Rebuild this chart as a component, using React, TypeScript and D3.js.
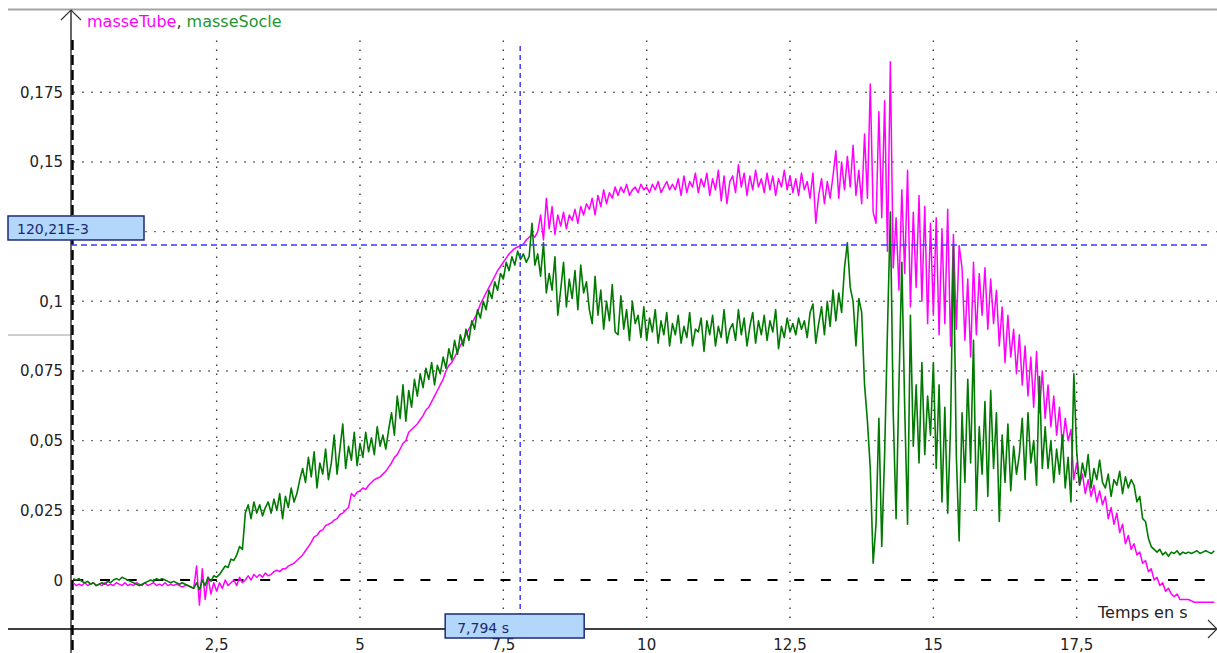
import React, { useMemo } from "react";
import * as d3 from "d3";

// Acquisition step of both channels, in seconds
const SAMPLE_STEP = 0.05;

// masseTube and masseSocle, one sample every SAMPLE_STEP, values in 10^-3 units
const masseTube = [
  -1, -2, -1.5, -2, -1, -2, -1.5, -1, -2, -1.5,
  -2, -1, -2, -1.5, -2, -1, -1.5, -2, -1, -2,
  -1.5, -2, -1, -1.5, -2, -1, -2, -1.5, -1, -2,
  -1.5, -2, -1, -2, -1.5, -2, -1.5, -2, -2.5, -2,
  -2, -2.5, -3, 5, -9, 4, -7, 1, -5, -1,
  -4, -1, -3, 0, -2, -1, 0, -2, 1, -1,
  0, 1.5, 0, 2, 1, 2, 1, 2.5, 1.5, 2,
  3, 3.5, 3, 4, 4, 5, 5.5, 6, 7, 8,
  9, 10.5, 12, 13.5, 15.5, 16, 17.5, 18, 19.5, 20,
  20.5, 21.5, 22, 23.5, 24, 25, 26, 31, 30, 31.5,
  32, 33, 32.5, 34, 35, 36, 36.5, 37, 38, 39,
  40.5, 42, 44, 45, 47, 49, 50, 53, 54, 55,
  56, 57.5, 59, 61, 62, 64, 66, 68, 70, 72,
  75, 77, 78, 80, 82, 84, 86, 88, 90, 92,
  94, 96, 99, 101, 103, 105, 107, 109, 111, 112.5,
  114, 115.5, 117, 118, 119, 119.5, 120, 120.5, 122, 123,
  124, 123, 125, 131, 122, 137, 126, 134, 124, 131,
  127, 132, 126, 131, 129, 133, 128, 134, 131, 135,
  133, 137, 131, 138, 134, 140, 135, 139, 137, 141,
  138, 141, 139, 142, 138, 140, 141, 139, 142, 140,
  141, 139, 142, 140, 143, 139, 141, 143, 140, 142,
  140, 144, 138, 145, 139, 143, 141, 146, 139, 144,
  141, 146, 138, 144, 140, 147, 136, 145, 135, 143,
  145, 139, 149, 141, 146, 138, 145, 140, 147, 141,
  144, 139, 146, 140, 145, 138, 144, 141, 147, 140,
  145, 139, 144, 138, 146, 140, 143, 137, 146, 128,
  138, 144, 135, 143, 137, 145, 154, 137, 150, 140,
  152, 141, 156, 138, 147, 135, 160, 137, 178, 132,
  128, 168, 130, 172, 118, 186, 112, 130, 104, 140,
  110, 147, 98, 132, 105, 138, 100, 134, 92, 128,
  95, 130, 88, 126, 92, 133, 84, 124, 90, 120,
  112, 86, 108, 80, 114, 88, 110, 95, 112, 90,
  108, 92, 104, 84, 98, 78, 95, 80, 90, 74,
  88, 70, 84, 66, 80, 62, 82, 60, 75, 58,
  70, 55, 66, 52, 62, 48, 58, 50, 54, 36,
  42, 34, 38, 31, 36, 30, 34, 28, 32, 27,
  30, 22, 26, 20, 24, 17, 20, 13, 16, 11,
  13, 9, 10, 6, 7, 3, 4, 0, 1, -2,
  -1, -4, -3, -5, -6, -5, -7, -7, -7, -7,
  -7.5, -8, -8, -8, -8, -8, -8, -8, -8,
];

const masseSocle = [
  0.5, 0, 0.5, -0.5, -1, -0.5, -1.5, -1, -2, -1.5,
  -1, -1.5, -0.5, -1, 0, 0.5, 0, 1, 0.5, 0,
  -0.5, -1, -1.5, -2, -1.5, -1, -0.5, 0, -0.5, 0.5,
  0, 0.5, 0, -0.5, -1, -0.5, -1, -1.5, -1, -1.5,
  -2, -2.5, -3, -1, -3.5, 0, -2, 1, -0.5, 1.5,
  1, 2, 3.5, 5, 4.5, 7.5, 7, 9, 12, 11,
  24, 27, 22, 28, 24, 27, 23, 26, 28, 24,
  29, 25, 31, 22, 30, 26, 33, 28, 31, 36,
  40, 35, 44, 37, 46, 33, 42, 38, 47, 36,
  42, 52, 38, 47, 56, 40, 48, 43, 53, 41,
  49, 44, 53, 46, 51, 45, 55, 48, 52, 47,
  54, 60, 52, 66, 58, 70, 57, 68, 62, 72,
  66, 74, 69, 76, 72, 78, 70, 77, 74, 80,
  76, 83, 79, 86, 81, 88, 84, 90, 86, 93,
  90, 97, 94, 100, 97, 104, 101, 107, 104, 110,
  108, 114, 111, 116, 113, 118, 115, 117, 114, 116,
  128, 113, 117, 109, 121, 103, 110, 104, 116, 95,
  104, 114, 98, 108, 101, 111, 97, 113, 103, 107,
  97, 92, 109, 95, 104, 90, 100, 93, 106, 89,
  88, 102, 90, 97, 86, 100, 92, 95, 87, 98,
  86, 94, 89, 97, 85, 93, 88, 96, 84, 92,
  88, 95, 85, 91, 87, 96, 84, 90, 89, 94,
  82, 93, 88, 95, 84, 91, 87, 97, 85, 90,
  92, 86, 97, 88, 94, 84, 91, 96, 85, 93,
  88, 95, 86, 93, 89, 97, 83, 91, 87, 94,
  89, 92, 88, 94, 90, 93, 87, 96, 99, 85,
  92, 98, 88, 100, 91, 104, 93, 103, 96, 112,
  121, 105, 100, 84, 101, 96, 70, 57, 40, 6,
  20, 58, 12, 45, 90, 132, 60, 22, 70, 114,
  62, 20, 95, 48, 70, 42, 78, 45, 66, 52,
  78, 40, 70, 28, 62, 24, 55, 120, 45, 14,
  60, 35, 72, 42, 86, 25, 55, 38, 64, 30,
  68, 40, 60, 21, 52, 35, 56, 32, 48, 38,
  45, 58, 36, 60, 42, 50, 34, 73, 40, 55,
  40, 50, 35, 47, 38, 52, 33, 44, 28, 74,
  46, 34, 42, 37, 45, 33, 40, 36, 43, 35,
  33, 38, 30, 36, 34, 39, 31, 37, 33, 36,
  34, 28, 30, 22, 21, 15, 12, 11, 10, 11,
  9, 10, 8.5, 10, 9.5, 10.5, 9, 10, 9.5, 10,
  9.5, 10, 10.5, 9.5, 10, 10.5, 10, 9.5, 10.5,
];

const xTicks = [2.5, 5, 7.5, 10, 12.5, 15, 17.5];
const yTicks = [0, 0.025, 0.05, 0.075, 0.1, 0.125, 0.15, 0.175];

// Reading cursor
const cursorTime = 7.794;
const cursorValue = 0.12021;

const W = 1217;
const H = 653;
const FONT = "'DejaVu Sans', Verdana, sans-serif";

const frLocale = d3.formatLocale({
  decimal: ",",
  thousands: " ",
  grouping: [3],
  currency: ["", " €"],
});
const fmtY = frLocale.format(".3~f");
const fmtX = frLocale.format(".1~f");

export default function App() {
  const x = useMemo(() => d3.scaleLinear().domain([0, 17.5]).range([73.3, 1076.7]), []);
  const y = useMemo(() => d3.scaleLinear().domain([0, 0.175]).range([580, 92.3]), []);

  const line = d3
    .line<number>()
    .x((_, i) => x(i * SAMPLE_STEP))
    .y((v) => y(v / 1000));

  const tubePath = line(masseTube) || "";
  const soclePath = line(masseSocle) || "";

  const x0 = x(0);
  const y0 = y(0);
  const cx = x(cursorTime);
  const cy = y(cursorValue);

  // value box of the cursor, drawn above the horizontal cursor line
  const boxTop = cy - 29;
  const boxBottom = cy - 5;

  const yLabel = `${frLocale.format(".2f")(cursorValue * 1000)}E-3`;
  const xLabel = `${frLocale.format(".3f")(cursorTime)} s`;

  const dotted = { stroke: "#3a3a3a", strokeWidth: 1.4, strokeDasharray: "1.4 7.6" };

  return (
    <div
      style={{
        position: "fixed",
        left: 0,
        top: 0,
        width: W,
        height: H,
        overflow: "hidden",
        background: "#fff",
      }}
    >
      <svg width={W} height={H} style={{ display: "block" }} fontFamily={FONT}>
        <defs>
          <clipPath id="plotArea">
            <rect x={71} y={10} width={W - 71} height={619} />
          </clipPath>
        </defs>

        {/* window header rule */}
        <line x1={8} x2={W} y1={9.5} y2={9.5} stroke="#a3a3a3" strokeWidth={2} />
        <line x1={8} x2={71} y1={335} y2={335} stroke="#cfcfcf" strokeWidth={2} />

        {/* dotted grid */}
        {yTicks
          .filter((t) => t !== 0)
          .map((t) => (
            <line key={`gy${t}`} x1={x0} x2={W} y1={y(t)} y2={y(t)} {...dotted} />
          ))}
        {xTicks.map((t) => (
          <line key={`gx${t}`} x1={x(t)} x2={x(t)} y1={40.5} y2={622} {...dotted} />
        ))}

        {/* zero lines */}
        <line
          x1={x0}
          x2={W}
          y1={y0}
          y2={y0}
          stroke="#000"
          strokeWidth={2}
          strokeDasharray="10 16.7"
        />
        <line
          x1={x0 - 0.8}
          x2={x0 - 0.8}
          y1={40}
          y2={H}
          stroke="#000"
          strokeWidth={2.4}
          strokeDasharray="10 5"
        />

        {/* axes */}
        <line x1={71} x2={71} y1={10} y2={H} stroke="#000" strokeWidth={1.2} />
        <polyline points="61,20 71,10 81,20" fill="none" stroke="#333" strokeWidth={1.2} />
        <line x1={8} x2={W} y1={629} y2={629} stroke="#000" strokeWidth={1.6} />
        <polyline points="1208,620 1217,629 1208,638" fill="none" stroke="#333" strokeWidth={1.2} />

        {/* tick labels (the one under the cursor box stays hidden) */}
        {yTicks
          .filter((t) => y(t) < boxTop - 4 || y(t) > boxBottom + 4)
          .map((t) => (
            <text
              key={`ly${t}`}
              x={63}
              y={y(t) + 5.5}
              textAnchor="end"
              fontSize={15}
              fill="#222"
            >
              {fmtY(t)}
            </text>
          ))}
        {xTicks.map((t) => (
          <text
            key={`lx${t}`}
            x={x(t)}
            y={650}
            textAnchor="middle"
            fontSize={15}
            fill="#222"
          >
            {fmtX(t)}
          </text>
        ))}

        {/* series */}
        <g clipPath="url(#plotArea)" fill="none" strokeLinejoin="round">
          <path d={tubePath} stroke="#ff00ff" strokeWidth={1.5} />
          <path d={soclePath} stroke="#007a00" strokeWidth={1.6} />
        </g>

        {/* legend and axis title */}
        <text x={87} y={26.5} fontSize={16}>
          <tspan fill="#ff00ff">masseTube</tspan>
          <tspan fill="#333">, </tspan>
          <tspan fill="#1f9630">masseSocle</tspan>
        </text>
        <text x={1098} y={618} fontSize={16} fill="#222">
          Temps en s
        </text>

        {/* cursor */}
        <line
          x1={71}
          x2={1210}
          y1={cy}
          y2={cy}
          stroke="#3a3aff"
          strokeWidth={1.5}
          strokeDasharray="6 4"
        />
        <line
          x1={cx}
          x2={cx}
          y1={46}
          y2={614}
          stroke="#3a3aff"
          strokeWidth={1.5}
          strokeDasharray="5 4"
        />
        <rect
          x={8}
          y={boxTop}
          width={136}
          height={boxBottom - boxTop}
          fill="#b3d6fb"
          stroke="#1d2a7a"
          strokeWidth={1.5}
        />
        <text x={17} y={cy - 11} fontSize={14} fill="#1c2a6a">
          {yLabel}
        </text>
        <rect
          x={cx - 75}
          y={614}
          width={139}
          height={24}
          fill="#b3d6fb"
          stroke="#1d2a7a"
          strokeWidth={1.5}
        />
        <text x={cx - 63} y={633} fontSize={14} fill="#1c2a6a">
          {xLabel}
        </text>
      </svg>
    </div>
  );
}
